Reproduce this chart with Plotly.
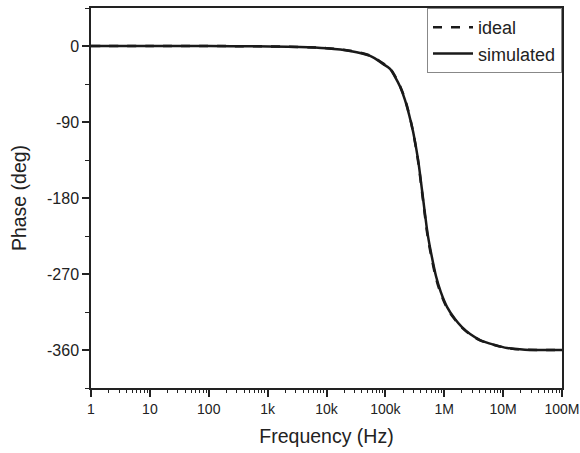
import plotly.graph_objects as go

freq_hz = [1, 10, 100, 500, 3.5e3, 1e4, 2.5e4, 5.5e4, 9.1e4, 1.2e5, 1.46e5, 1.78e5,
           2.15e5, 2.53e5, 2.96e5, 3.57e5, 4.2e5, 4.7e5, 5.27e5, 6.18e5, 7.25e5,
           8.75e5, 1.12e6, 1.52e6, 2.0e6, 2.75e6, 4.06e6, 7.3e6, 1.17e7, 2.35e7, 1e8]

phase_simulated = [0, 0, -0.1, -0.3, -1.2, -2.8, -5.9, -11.8, -21.2, -27.1, -36.6, -48.4,
                   -63.7, -81.4, -101.5, -133.4, -171.1, -198.3, -224.3, -250.2, -272.7,
                   -291.5, -309.2, -323.4, -332.9, -341.1, -348.2, -354.1, -357.6, -359.6, -360]

phase_ideal = [0, 0, -0.1, -0.3, -1.1, -2.6, -5.6, -11.3, -20.6, -26.5, -35.8, -47.6,
               -62.8, -80.6, -102.0, -135.0, -173.5, -201.0, -227.0, -253.0, -275.0,
               -293.5, -310.5, -324.0, -333.5, -341.5, -348.5, -354.3, -357.7, -359.6, -360]

x_tick_vals = [1, 10, 100, 1e3, 1e4, 1e5, 1e6, 1e7, 1e8]
x_tick_text = ["1", "10", "100", "1k", "10k", "100k", "1M", "10M", "100M"]
y_tick_vals = [0, -90, -180, -270, -360]
y_tick_text = ["0", "-90", "-180", "-270", "-360"]

FONT = "Liberation Sans, Arial, sans-serif"

fig = go.Figure()
fig.add_trace(go.Scatter(x=freq_hz, y=phase_ideal, mode="lines", name="ideal",
                         line=dict(color="#1a1a1a", width=2.5, dash="dash", shape="spline")))
fig.add_trace(go.Scatter(x=freq_hz, y=phase_simulated, mode="lines", name="simulated",
                         line=dict(color="#1a1a1a", width=2.5, shape="spline")))

fig.update_layout(
    width=580, height=453,
    margin=dict(l=91, r=18, t=8, b=65),
    paper_bgcolor="white", plot_bgcolor="white",
    font=dict(family=FONT, color="#222222", size=15),
    showlegend=True,
    legend=dict(x=1, y=1, xanchor="right", yanchor="top",
                bordercolor="#888888", borderwidth=1, bgcolor="white",
                font=dict(size=18, family=FONT, color="#222222"),
                tracegroupgap=0, itemwidth=40),
)

fig.update_xaxes(
    type="log", range=[0, 8], automargin=False,
    tickvals=x_tick_vals, ticktext=x_tick_text,
    showline=True, linecolor="#222222", linewidth=1.5, mirror=True,
    ticks="outside", ticklen=7, tickwidth=1.5, tickcolor="#222222",
    minor=dict(ticks="outside", ticklen=3, tickwidth=1, tickcolor="#222222", dtick="D1", showgrid=False),
    showgrid=False, zeroline=False,
    title=dict(text="Frequency (Hz)", font=dict(size=19.5, family=FONT), standoff=14),
    tickfont=dict(size=14, family=FONT),
)
fig.update_yaxes(
    range=[-405, 45], automargin=False,
    tickvals=y_tick_vals, ticktext=y_tick_text,
    showline=True, linecolor="#222222", linewidth=1.5, mirror=True,
    ticks="outside", ticklen=7, tickwidth=1.5, tickcolor="#222222",
    minor=dict(ticks="outside", ticklen=4, tickwidth=1, tickcolor="#222222",
               tickvals=[-45, -135, -225, -315, -405, 45], showgrid=False),
    showgrid=False, zeroline=False,
    title=dict(text="Phase (deg)", font=dict(size=19.5, family=FONT), standoff=15),
    tickfont=dict(size=16, family=FONT),
)

fig.write_html(
    "out.html",
    config={"displayModeBar": False},
    post_script="document.body.style.margin='0';document.documentElement.style.overflow='hidden';",
)
